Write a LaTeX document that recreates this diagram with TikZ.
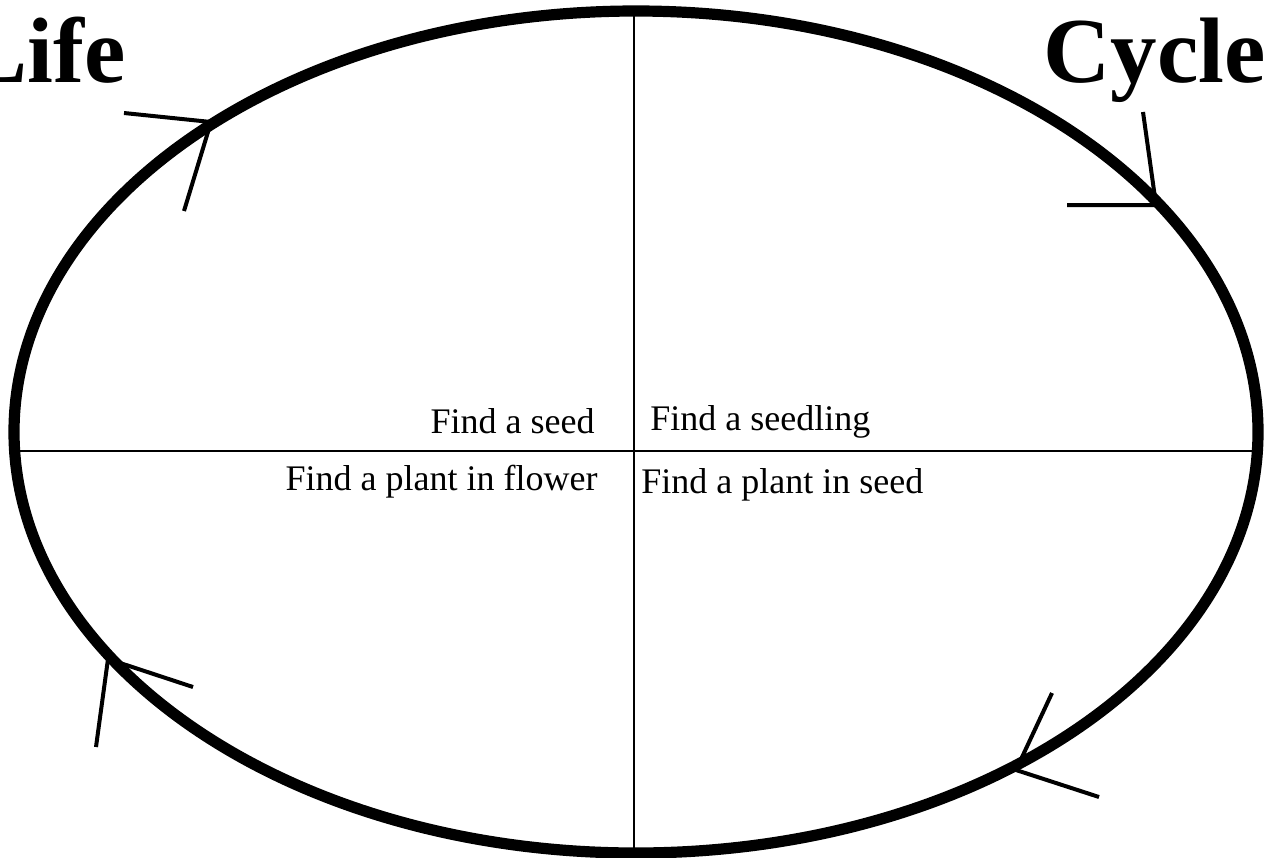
\documentclass[tikz,border=0pt]{standalone}
\usepackage{fontspec}
\setmainfont{Liberation Serif}
\usetikzlibrary{positioning}

\begin{document}
\begin{tikzpicture}[x=0.5pt, y=-0.5pt,
    rim/.style={draw=black, line width=5.6pt},
    axis/.style={draw=black, line width=1.4pt},
    tick/.style={draw=black, line width=2pt},
    lbl/.style={font=\fontsize{18}{20}\selectfont, inner sep=0pt},
    ttl/.style={font=\fontsize{46.5}{50}\selectfont\bfseries, inner sep=0pt}
]
    \clip (0,0) rectangle (1272,857);
    \useasboundingbox (0,0) rectangle (1272,857);
    % outer cycle and the quarters
    \draw[rim] (636,432) ellipse [x radius=622, y radius=421];
    \coordinate (top) at (634,14);
    \coordinate (bot) at (634,852);
    \coordinate (lft) at (18,451);
    \coordinate (rgt) at (1255,451);
    \draw[axis] (top) -- (bot);
    \draw[axis] (lft) -- (rgt);
    % titles
    \node[ttl, anchor=base east] (life) at (126,82) {Life};
    \node[ttl, anchor=base west] (cycle) at (1043,82) {Cycle};
    % stage labels
    \node[lbl, anchor=base east] (seed) at (595,433) {Find a seed};
    \node[lbl, anchor=base west] (seedling) at (650,430) {Find a seedling};
    \node[lbl, anchor=base east] (flower) at (598,490) {Find a plant in flower};
    \node[lbl, anchor=base west] (inseed) at (641,493) {Find a plant in seed};
    % direction marks on the rim
    \coordinate (a1) at (211,122);
    \coordinate (b1) at (1156,205);
    \coordinate (c1) at (1016,770);
    \coordinate (d1) at (108,659);
    \draw[tick] (124,113) -- (a1) -- (184,211);
    \draw[tick] (1143,112) -- (b1) -- (1067,205);
    \draw[tick] (1052,693) -- (c1) -- (1099,797);
    \draw[tick] (193,687) -- (d1) -- (96,747);
\end{tikzpicture}
\end{document}
